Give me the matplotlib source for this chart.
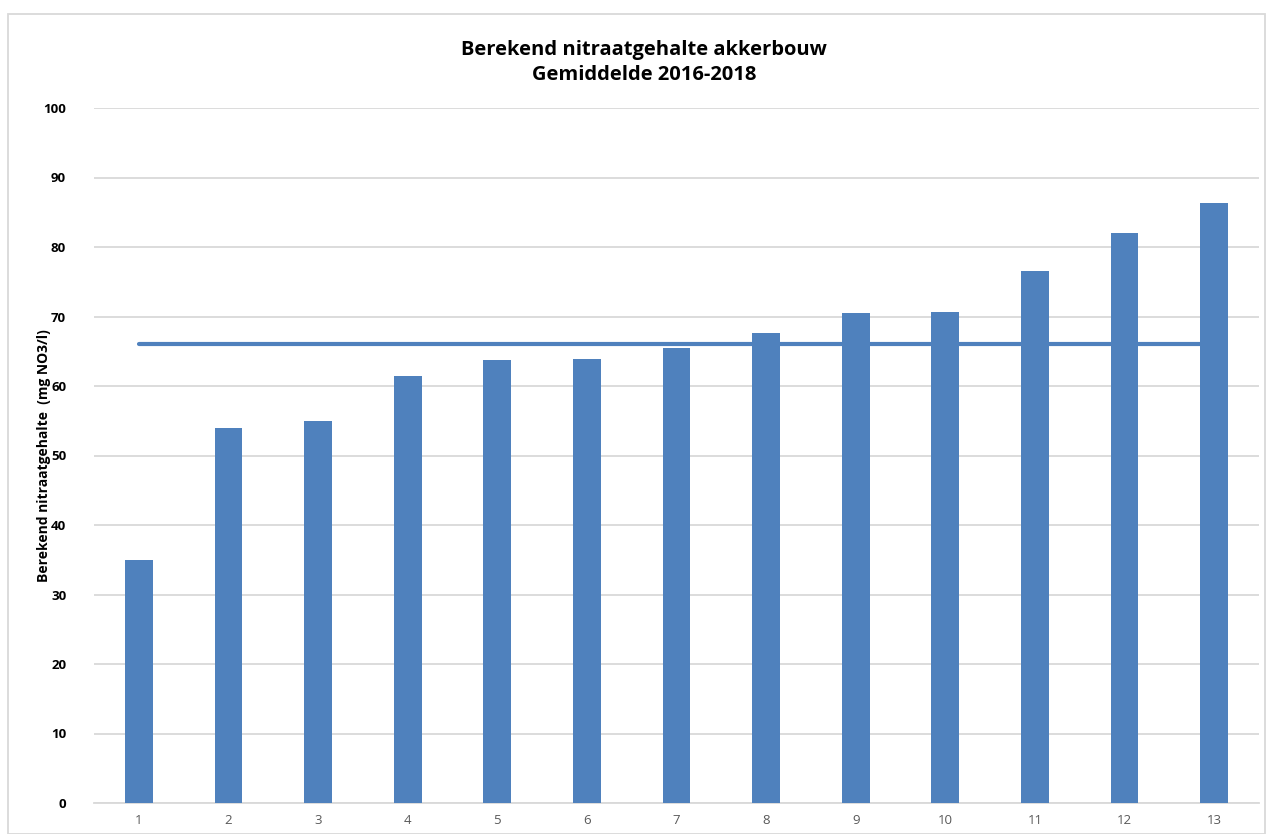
import numpy as np
import matplotlib.pyplot as plt
from matplotlib.patches import Rectangle

plt.rcParams['font.family'] = ['Open Sans', 'DejaVu Sans']

# berekende nitraatgehalten per bedrijf, gesorteerd
bedrijven = [str(i) for i in range(1, 14)]
nitraat = [35.0, 54.0, 54.9, 61.5, 63.7, 63.9, 65.5, 67.6, 70.5, 70.6, 76.5, 82.0, 86.3]
gemiddelde = 66.0

blauw = '#4F81BD'

fig = plt.figure(figsize=(12.66, 8.34), dpi=100)
ax = fig.add_axes([94 / 1266, 31 / 834, (1259 - 94) / 1266, (803 - 108) / 834])

x = np.arange(1, len(nitraat) + 1)
ax.plot([x[0], x[-1]], [gemiddelde, gemiddelde], color=blauw, lw=3, zorder=2,
        solid_capstyle='round')
ax.bar(x, nitraat, width=0.31, color=blauw, zorder=3)

ax.set_xlim(0.5, len(nitraat) + 0.5)
ax.set_ylim(0, 100)
ax.set_yticks(np.arange(0, 101, 10))
ax.set_xticks(x)
ax.set_xticklabels(bedrijven, fontsize=9.5, color='#595959')
for lbl in ax.get_yticklabels():
    lbl.set_fontweight('bold')
    lbl.set_fontsize(9.5)
ax.tick_params(length=0, pad=8)
ax.tick_params(axis='y', pad=20)

ax.grid(axis='y', color='#D9D9D9', lw=1.3, zorder=0)
ax.set_axisbelow(True)
for s in ['top', 'right', 'left']:
    ax.spines[s].set_visible(False)
ax.spines['bottom'].set_color('#D9D9D9')
ax.spines['bottom'].set_linewidth(1.3)

ax.set_ylabel('Berekend nitraatgehalte  (mg NO3/l)', fontsize=10, fontweight='bold')
ax.yaxis.set_label_coords(-0.037, 0.5)

fig.text(0.509, 0.925, 'Berekend nitraatgehalte akkerbouw\nGemiddelde 2016-2018',
         ha='center', va='center', fontsize=14.5, fontweight='bold', linespacing=1.35)

fig.patches.append(Rectangle((8 / 1266, 0), 1 - 9 / 1266, 1 - 14 / 834,
                             transform=fig.transFigure, fill=False,
                             edgecolor='#D9D9D9', lw=1.3))

fig.savefig('out.png', dpi=100)
